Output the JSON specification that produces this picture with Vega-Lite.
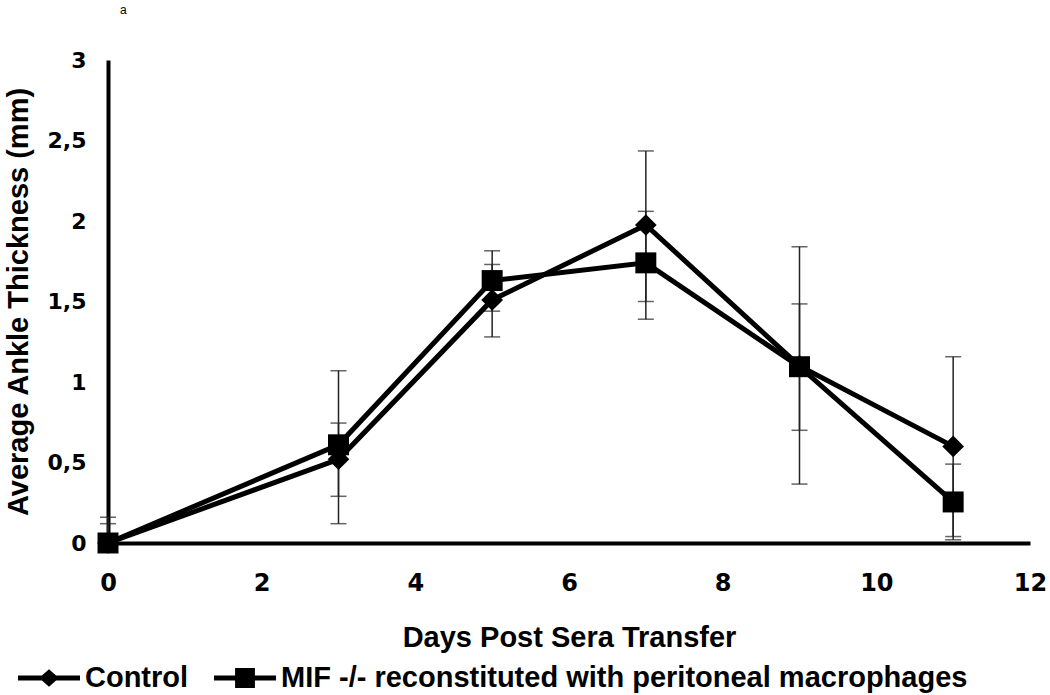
{
  "$schema": "https://vega.github.io/schema/vega-lite/v6.json",
  "autosize": "none",
  "width": 922,
  "height": 483,
  "padding": {"left": 108, "top": 60, "right": 20, "bottom": 152},
  "background": "white",
  "title": {"text": "a", "anchor": "start", "frame": "group", "dx": 12, "offset": 32, "fontSize": 12, "fontWeight": "normal", "font": "Liberation Sans", "color": "black"},
  "config": {
    "view": {"stroke": null},
    "axis": {"domainColor": "black", "domainWidth": 4, "ticks": false, "grid": false, "labelFlush": false, "labelColor": "black", "titleColor": "black", "labelFont": "DejaVu Sans", "labelFontWeight": "bold", "labelFontSize": 22, "titleFont": "Liberation Sans", "titleFontWeight": "bold", "titleFontSize": 29}
  },
  "data": {"values": [
    {"day": 0, "group": "Control", "mean": 0, "lo": 0, "hi": 0.12},
    {"day": 3, "group": "Control", "mean": 0.52, "lo": 0.29, "hi": 0.745},
    {"day": 5, "group": "Control", "mean": 1.51, "lo": 1.28, "hi": 1.73},
    {"day": 7, "group": "Control", "mean": 1.975, "lo": 1.5, "hi": 2.435},
    {"day": 9, "group": "Control", "mean": 1.1, "lo": 0.366, "hi": 1.84},
    {"day": 11, "group": "Control", "mean": 0.6, "lo": 0.04, "hi": 1.157},
    {"day": 0, "group": "MIF -/- reconstituted with peritoneal macrophages", "mean": 0, "lo": 0, "hi": 0.16},
    {"day": 3, "group": "MIF -/- reconstituted with peritoneal macrophages", "mean": 0.61, "lo": 0.12, "hi": 1.07},
    {"day": 5, "group": "MIF -/- reconstituted with peritoneal macrophages", "mean": 1.63, "lo": 1.44, "hi": 1.815},
    {"day": 7, "group": "MIF -/- reconstituted with peritoneal macrophages", "mean": 1.74, "lo": 1.39, "hi": 2.06},
    {"day": 9, "group": "MIF -/- reconstituted with peritoneal macrophages", "mean": 1.095, "lo": 0.7, "hi": 1.485},
    {"day": 11, "group": "MIF -/- reconstituted with peritoneal macrophages", "mean": 0.255, "lo": 0.02, "hi": 0.49}
  ]},
  "layer": [
    {
      "mark": {"type": "rule", "color": "#222", "strokeWidth": 1.5},
      "encoding": {
        "x": {"field": "day", "type": "quantitative", "scale": {"domain": [0, 12]}},
        "y": {"field": "lo", "type": "quantitative", "scale": {"domain": [0, 3]}},
        "y2": {"field": "hi"}
      }
    },
    {
      "transform": [{"fold": ["lo", "hi"], "as": ["bound", "val"]}],
      "mark": {"type": "tick", "orient": "horizontal", "color": "#222", "size": 16, "thickness": 1.5},
      "encoding": {
        "x": {"field": "day", "type": "quantitative"},
        "y": {"field": "val", "type": "quantitative"}
      }
    },
    {
      "mark": {"type": "line", "color": "black", "strokeWidth": 5},
      "encoding": {
        "x": {"field": "day", "type": "quantitative"},
        "y": {"field": "mean", "type": "quantitative"},
        "detail": {"field": "group"}
      }
    },
    {
      "mark": {"type": "point", "filled": true, "opacity": 1, "color": "black", "size": 0},
      "encoding": {
        "x": {"field": "day", "type": "quantitative", "scale": {"domain": [0, 12]},
              "axis": {"values": [0, 2, 4, 6, 8, 10, 12], "format": "d", "labelFontSize": 24, "labelPadding": 28, "title": "Days Post Sera Transfer", "titlePadding": 28}},
        "y": {"field": "mean", "type": "quantitative", "scale": {"domain": [0, 3]},
              "axis": {"values": [0, 0.5, 1, 1.5, 2, 2.5, 3], "labelPadding": 22, "labelExpr": "replace(format(datum.value, '.1~f'), '.', ',')", "title": "Average Ankle Thickness (mm)", "titlePadding": 14}},
        "shape": {"field": "group", "type": "nominal",
          "scale": {"domain": ["Control", "MIF -/- reconstituted with peritoneal macrophages"], "range": ["M-1,-0.08H1V0.08H-1Z M-0.32,0L0,-0.28L0.32,0L0,0.28Z", "M-1,-0.08H1V0.08H-1Z M-0.32,-0.32H0.32V0.32H-0.32Z"]},
          "legend": {"title": null, "orient": "none", "legendX": -90, "legendY": 587, "direction": "horizontal", "padding": 0,
            "symbolSize": 3844, "symbolFillColor": "black", "symbolStrokeColor": "transparent", "symbolStrokeWidth": 0, "symbolOpacity": 1, "labelFont": "Liberation Sans", "labelFontWeight": "bold", "labelFontSize": 29, "labelColor": "black", "labelOffset": 5, "columnPadding": 25, "labelLimit": 1000}
        }
      }
    },
    {
      "transform": [{"filter": "datum.group === 'Control'"}],
      "mark": {"type": "point", "filled": true, "opacity": 1, "color": "black", "size": 470, "shape": "diamond"},
      "encoding": {
        "x": {"field": "day", "type": "quantitative"},
        "y": {"field": "mean", "type": "quantitative"}
      }
    },
    {
      "transform": [{"filter": "datum.group !== 'Control'"}],
      "mark": {"type": "point", "filled": true, "opacity": 1, "color": "black", "size": 440, "shape": "square"},
      "encoding": {
        "x": {"field": "day", "type": "quantitative"},
        "y": {"field": "mean", "type": "quantitative"}
      }
    }
  ]
}
